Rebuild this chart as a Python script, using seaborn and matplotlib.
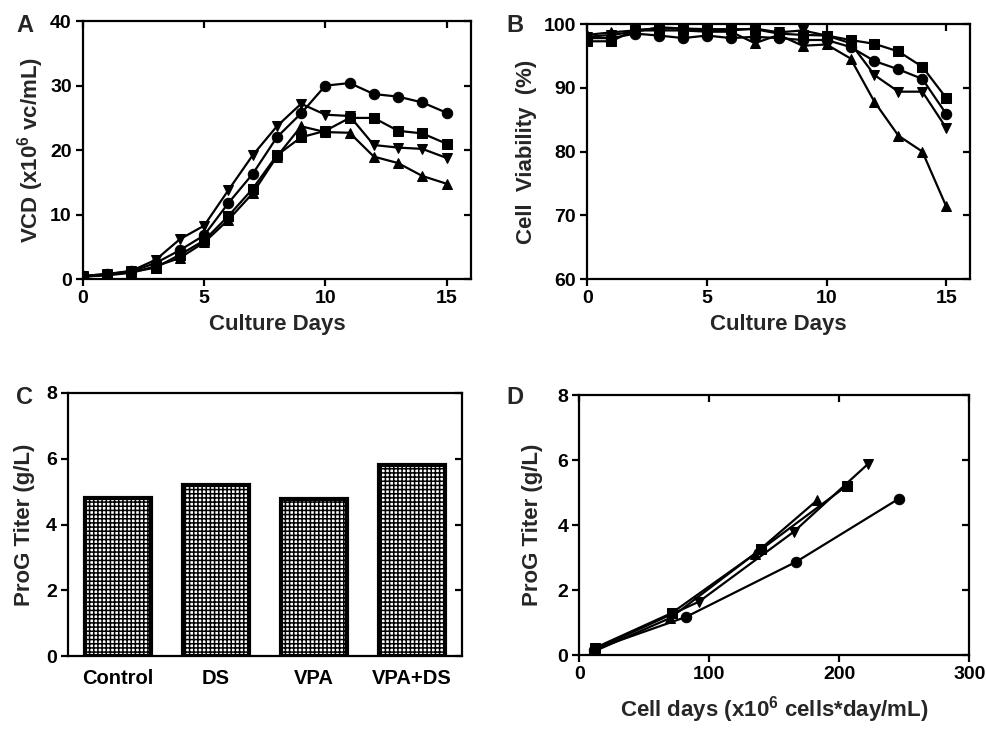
import numpy as np
import pandas as pd
import matplotlib
matplotlib.use("Agg")
import matplotlib.pyplot as plt
import seaborn as sns

# culture days
days = list(range(16))

# Panel A: viable cell density (x10^6 vc/mL)
vcd_control = [0.5, 0.8, 1.2, 2.5, 4.5, 6.8, 11.8, 16.3, 22.0, 25.7, 30.0, 30.4, 28.7, 28.3, 27.4, 25.8]
vcd_ds = [0.4, 0.7, 1.1, 1.8, 3.8, 6.0, 9.8, 14.0, 19.2, 22.0, 23.0, 25.0, 25.0, 23.0, 22.6, 21.0]
vcd_vpa_ds = [0.5, 0.8, 1.3, 3.0, 6.2, 8.3, 13.8, 19.2, 23.7, 27.2, 25.5, 25.3, 20.8, 20.4, 20.2, 18.8]
vcd_vpa = [0.4, 0.6, 1.0, 2.0, 3.3, 5.7, 9.2, 13.3, 19.0, 23.7, 22.8, 22.7, 19.0, 18.0, 16.0, 14.8]

# Panel B: cell viability (%)
via_control = [97.8, 97.8, 98.5, 98.2, 97.8, 98.2, 97.8, 98.0, 97.8, 97.5, 97.5, 96.4, 94.2, 92.9, 91.4, 85.9]
via_ds = [97.3, 97.3, 99.1, 99.3, 99.3, 99.2, 99.2, 99.2, 98.5, 98.3, 98.2, 97.5, 96.9, 95.7, 93.3, 88.4]
via_vpa_ds = [98.0, 98.3, 98.8, 99.5, 99.3, 99.0, 99.0, 99.3, 98.7, 99.0, 98.2, 97.0, 92.0, 89.4, 89.4, 83.7]
via_vpa = [98.3, 98.7, 99.0, 99.0, 99.0, 98.8, 98.8, 97.0, 98.3, 96.6, 96.8, 94.6, 87.8, 82.5, 80.0, 71.4]

# Panel C: final titer (g/L)
conditions = ["Control", "DS", "VPA", "VPA+DS"]
titers = [4.82, 5.2, 4.77, 5.82]

# Panel D: titer vs integrated cell days
cd_control = [11, 82, 167, 246]
tit_control = [0.18, 1.18, 2.88, 4.82]
cd_ds = [12, 71, 140, 206]
tit_ds = [0.23, 1.30, 3.26, 5.22]
cd_vpa_ds = [13, 92, 165, 222]
tit_vpa_ds = [0.2, 1.65, 3.8, 5.88]
cd_vpa = [10, 70, 135, 183]
tit_vpa = [0.1, 1.15, 3.12, 4.77]

markers = {"Control": "o", "DS": "s", "VPA": "^", "VPA+DS": "v"}

sns.set_style("ticks")
plt.rcParams["font.family"] = ["Liberation Sans", "DejaVu Sans"]
plt.rcParams["font.weight"] = "bold"
plt.rcParams["axes.labelweight"] = "bold"
plt.rcParams["mathtext.fontset"] = "custom"
plt.rcParams["mathtext.bf"] = "Liberation Sans:bold"
plt.rcParams["mathtext.rm"] = "Liberation Sans:bold"
plt.rcParams["hatch.linewidth"] = 1.1
plt.rcParams["hatch.color"] = "black"

TICK_FS = 14
LABEL_FS = 16

fig = plt.figure(figsize=(9.87, 7.29), dpi=100)
axA = fig.add_axes([0.084, 0.617, 0.393, 0.354])
axB = fig.add_axes([0.595, 0.617, 0.388, 0.350])
axC = fig.add_axes([0.069, 0.100, 0.399, 0.361])
axD = fig.add_axes([0.587, 0.101, 0.395, 0.357])


def style_axes(ax, top_ticks=True):
    for sp in ax.spines.values():
        sp.set_linewidth(1.6)
        sp.set_color("black")
    ax.tick_params(axis="both", which="major", direction="out", length=5, width=1.6,
                   labelsize=TICK_FS, colors="black", pad=3)
    ax.tick_params(axis="y", right=True, labelright=False)
    ax.tick_params(axis="x", top=top_ticks, labeltop=False)
    for t in ax.yaxis.get_ticklines()[1::2]:
        t.set_marker(matplotlib.lines.TICKLEFT)
    if top_ticks:
        for t in ax.xaxis.get_ticklines()[1::2]:
            t.set_marker(matplotlib.lines.TICKDOWN)
    for lab in ax.get_xticklabels() + ax.get_yticklabels():
        lab.set_fontweight("bold")


def draw_series(ax, series):
    for name, x, vals in series:
        sns.lineplot(x=x, y=vals, ax=ax, color="black", linewidth=1.6,
                     marker=markers[name], markersize=7.5, markeredgecolor="black",
                     markerfacecolor="black", legend=False, sort=False)


# A
draw_series(axA, [("Control", days, vcd_control), ("DS", days, vcd_ds),
                  ("VPA+DS", days, vcd_vpa_ds), ("VPA", days, vcd_vpa)])
axA.set_xlim(0, 16)
axA.set_ylim(0, 40)
axA.set_xticks([0, 5, 10, 15])
axA.set_yticks([0, 10, 20, 30, 40])
axA.set_xlabel("Culture Days", fontsize=LABEL_FS, labelpad=5)
axA.set_ylabel(r"VCD (x10$^\mathbf{6}$ vc/mL)", fontsize=LABEL_FS, labelpad=3)
style_axes(axA)

# B
draw_series(axB, [("Control", days, via_control), ("DS", days, via_ds),
                  ("VPA+DS", days, via_vpa_ds), ("VPA", days, via_vpa)])
axB.set_xlim(0, 16)
axB.set_ylim(60, 100)
axB.set_xticks([0, 5, 10, 15])
axB.set_yticks([60, 70, 80, 90, 100])
axB.set_xlabel("Culture Days", fontsize=LABEL_FS, labelpad=5)
axB.set_ylabel("Cell  Viability  (%)", fontsize=LABEL_FS, labelpad=5)
style_axes(axB)

# C
sns.barplot(x=conditions, y=titers, ax=axC, color="white", edgecolor="black",
            linewidth=3, width=0.68, saturation=1, hatch="++++")
axC.set_xlim(-0.51, 3.51)
axC.set_ylim(0, 8)
axC.set_yticks([0, 2, 4, 6, 8])
axC.set_xlabel("")
axC.set_ylabel("ProG Titer (g/L)", fontsize=LABEL_FS, labelpad=8)
style_axes(axC, top_ticks=False)
axC.tick_params(axis="x", bottom=False, labelsize=TICK_FS + 0.5, pad=4)

# D
draw_series(axD, [("Control", cd_control, tit_control), ("DS", cd_ds, tit_ds),
                  ("VPA+DS", cd_vpa_ds, tit_vpa_ds), ("VPA", cd_vpa, tit_vpa)])
axD.set_xlim(0, 300)
axD.set_ylim(0, 8)
axD.set_xticks([0, 100, 200, 300])
axD.set_yticks([0, 2, 4, 6, 8])
axD.set_xlabel(r"Cell days (x10$^\mathbf{6}$ cells*day/mL)", fontsize=LABEL_FS, labelpad=8)
axD.set_ylabel("ProG Titer (g/L)", fontsize=LABEL_FS, labelpad=10)
style_axes(axD)

# panel letters
for letter, (x, y) in zip("ABCD", [(25, 25), (515, 25), (25, 398), (515, 397)]):
    fig.text(x / 987, 1 - y / 729, letter, fontsize=17, fontweight="bold",
             ha="center", va="center")

fig.savefig("out.png", dpi=100)
